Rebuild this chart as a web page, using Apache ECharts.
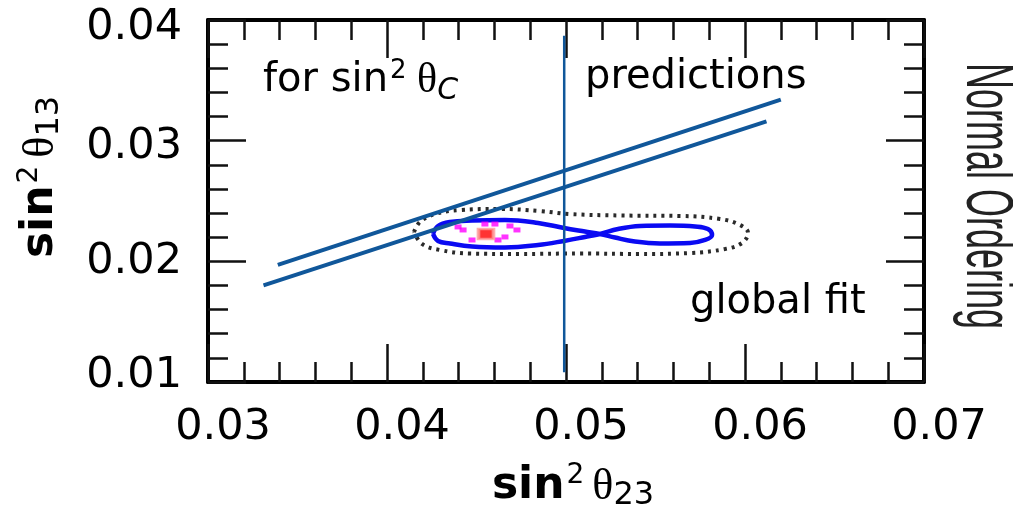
<!DOCTYPE html>
<html>
<head>
<meta charset="utf-8">
<script src="https://cdn.jsdelivr.net/npm/echarts@6/dist/echarts.min.js"></script>
<style>
  html, body { margin: 0; padding: 0; background: #fff; }
  #chart { width: 1013px; height: 514px; }
</style>
</head>
<body>
<div id="chart"></div>
<script>
// axis ranges and ticks
const xTicks = [0.03, 0.04, 0.05, 0.06, 0.07]
const yTicks = [0.01, 0.02, 0.03, 0.04]

// the two sin^2 theta_C prediction lines
const upperLine = [[0.0339, 0.0197], [0.0620, 0.0334]]
const lowerLine = [[0.0331, 0.0180], [0.0612, 0.0316]]
// vertical reference line
const refLine = [[0.0499, 0.0387], [0.0499, 0.0108]]

// global fit, blue figure-eight contour
const fitContour = [
    [0.04257, 0.02227], [0.04285, 0.02293], [0.04352, 0.02326], [0.04475, 0.02338],
    [0.04659, 0.02343], [0.04844, 0.02318], [0.04989, 0.02276], [0.05106, 0.02247],
    [0.05190, 0.02227], [0.05274, 0.02197], [0.05385, 0.02164], [0.05525, 0.02148],
    [0.05693, 0.02152], [0.05777, 0.02177], [0.05816, 0.02218], [0.05793, 0.02268],
    [0.05721, 0.02289], [0.05581, 0.02297], [0.05413, 0.02293], [0.05291, 0.02268],
    [0.05190, 0.02227], [0.05106, 0.02202], [0.04989, 0.02169], [0.04844, 0.02135],
    [0.04659, 0.02115], [0.04475, 0.02123], [0.04352, 0.02148], [0.04285, 0.02169],
    [0.04257, 0.02227]
]

// outer dotted contour
const outerContour = [
    [0.04151, 0.02243], [0.04184, 0.02326], [0.04268, 0.02392], [0.04408, 0.02425],
    [0.04631, 0.02434], [0.04855, 0.02417], [0.05022, 0.02392], [0.05302, 0.02380],
    [0.05637, 0.02376], [0.05860, 0.02351], [0.05972, 0.02301], [0.06017, 0.02235],
    [0.05983, 0.02152], [0.05888, 0.02102], [0.05693, 0.02069], [0.05413, 0.02061],
    [0.05078, 0.02065], [0.04743, 0.02061], [0.04464, 0.02065], [0.04296, 0.02094],
    [0.04196, 0.02144], [0.04151, 0.02243]
]

// small magenta region and best fit point
const innerDots = [
    [0.04397, 0.02285], [0.04425, 0.02260], [0.04547, 0.02309], [0.04603, 0.02309],
    [0.04687, 0.02293], [0.04726, 0.02260], [0.04475, 0.02177], [0.04620, 0.02177],
    [0.04659, 0.02202]
]
const bestFit = [[0.04553, 0.02227]]

const chart = echarts.init(document.getElementById('chart'))

const FONT = 'DejaVu Sans'
const axisBase = {
    type: 'value',
    axisLine: { show: true, onZero: false, lineStyle: { color: '#000', width: 4 } },
    axisTick: { show: true, inside: true, length: 38, lineStyle: { color: '#111', width: 2.5 } },
    minorTick: { show: true, splitNumber: 5, length: 20, lineStyle: { color: '#111', width: 2.5 } },
    splitLine: { show: false },
    minorSplitLine: { show: false }
}

const mathRich = {
    s: { fontFamily: FONT, fontSize: 44, fontWeight: 'bold', color: '#000' },
    sup: { fontFamily: FONT, fontSize: 28, color: '#000', padding: [0, 8, 22, 2] },
    th: { fontFamily: 'Liberation Serif', fontSize: 44, color: '#000' },
    sub: { fontFamily: FONT, fontSize: 32, color: '#000', padding: [18, 0, 0, 0] }
}

// y tick labels in the original sit slightly toward the middle
const yLabelRich = {
    t1: { fontFamily: FONT, fontSize: 43, color: '#000', padding: [0, 0, 12, 0] },
    t2: { fontFamily: FONT, fontSize: 43, color: '#000' },
    t3: { fontFamily: FONT, fontSize: 43, color: '#000', padding: [12, 0, 0, 0] },
    t4: { fontFamily: FONT, fontSize: 43, color: '#000', padding: [16, 0, 0, 0] }
}

chart.setOption({
    animation: false,
    backgroundColor: '#fff',
    grid: { left: 208, right: 89, top: 20, bottom: 132, outerBoundsMode: 'none', containLabel: false },
    xAxis: [
        Object.assign({}, axisBase, {
            position: 'bottom',
            min: xTicks[0], max: xTicks[xTicks.length - 1], interval: 0.01,
            axisLabel: {
                margin: 24, fontFamily: FONT, fontSize: 43, color: '#000',
                padding: [0, 0, 0, 30],
                formatter: v => v.toFixed(2)
            },
            name: '{s|sin}{sup|2}{th|θ}{sub|23}',
            nameLocation: 'middle',
            nameGap: 80,
            nameTextStyle: { rich: mathRich, padding: [0, 0, 0, 14] }
        }),
        Object.assign({}, axisBase, {
            position: 'top',
            min: xTicks[0], max: xTicks[xTicks.length - 1], interval: 0.01,
            axisLabel: { show: false }
        })
    ],
    yAxis: [
        Object.assign({}, axisBase, {
            position: 'left',
            min: yTicks[0], max: yTicks[yTicks.length - 1], interval: 0.01,
            axisLabel: {
                margin: 26,
                rich: yLabelRich,
                formatter: v => '{t' + Math.round(v * 100) + '|' + v.toFixed(2) + '}'
            },
            name: '{s|sin}{sup|2}{th|θ}{sub|13}',
            nameLocation: 'middle',
            nameRotate: 90,
            nameGap: 142,
            nameTextStyle: { rich: mathRich, padding: [0, 0, 0, 48] }
        }),
        Object.assign({}, axisBase, {
            position: 'right',
            min: yTicks[0], max: yTicks[yTicks.length - 1], interval: 0.01,
            axisLabel: { show: false }
        })
    ],
    series: [
        {
            name: 'outer', type: 'line', data: outerContour, smooth: 0.4,
            showSymbol: false, z: 2,
            lineStyle: { color: '#2a2a2a', width: 4, type: [3, 5] }
        },
        {
            name: 'fit', type: 'line', data: fitContour, smooth: 0.4,
            showSymbol: false, z: 3,
            lineStyle: { color: '#0a0af2', width: 4.5 }
        },
        {
            name: 'dots', type: 'scatter', data: innerDots, symbol: 'rect',
            symbolSize: [7, 5], z: 4,
            itemStyle: { color: '#ff00ff' }
        },
        {
            name: 'best', type: 'scatter', data: bestFit, symbol: 'rect',
            symbolSize: [15, 10], z: 5,
            itemStyle: { color: '#ff0000', borderColor: '#ff9a9a', borderWidth: 3 }
        },
        {
            name: 'upper', type: 'line', data: upperLine, showSymbol: false, z: 6,
            lineStyle: { color: '#10579a', width: 4 }
        },
        {
            name: 'lower', type: 'line', data: lowerLine, showSymbol: false, z: 6,
            lineStyle: { color: '#10579a', width: 4 }
        },
        {
            name: 'ref', type: 'line', data: refLine, showSymbol: false, z: 6,
            lineStyle: { color: '#10579a', width: 2.5 }
        }
    ],
    graphic: [
        {
            type: 'text', left: 263, top: 58, z: 10,
            style: {
                text: '{t|for sin}{sup|2}{th| θ}{c|C}',
                rich: {
                    t: { fontFamily: FONT, fontSize: 40, color: '#000' },
                    sup: { fontFamily: FONT, fontSize: 26, color: '#000', padding: [0, 0, 20, 2] },
                    th: { fontFamily: 'Liberation Serif', fontSize: 42, color: '#000' },
                    c: { fontFamily: FONT, fontSize: 30, fontStyle: 'italic', color: '#000', padding: [20, 0, 0, 0] }
                }
            }
        },
        {
            type: 'text', left: 585, top: 58, z: 10,
            style: { text: 'predictions', fontFamily: FONT, fontSize: 40, fill: '#000' }
        },
        {
            type: 'text', left: 690, top: 283, z: 10,
            style: { text: 'global fit', fontFamily: FONT, fontSize: 40, fill: '#000' }
        },
        {
            type: 'text', x: 985, y: 196, rotation: -Math.PI / 2, scaleY: 1.85, z: 10,
            style: {
                text: 'Normal Ordering', fontFamily: 'Liberation Sans', fontSize: 36,
                fill: '#222', align: 'center', verticalAlign: 'middle'
            }
        }
    ]
})
</script>
</body>
</html>
